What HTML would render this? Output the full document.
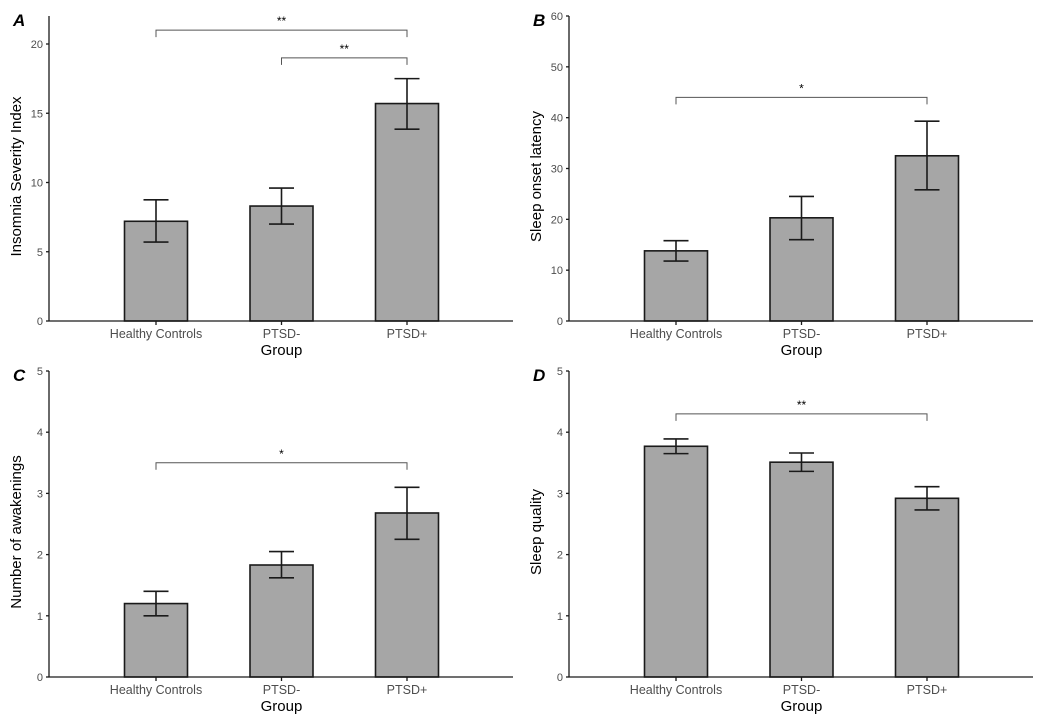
<!DOCTYPE html>
<html><head><meta charset="utf-8"><style>
body{margin:0;background:#fff}
svg{display:block;font-family:"Liberation Sans",sans-serif}
</style></head><body>
<svg id="chart" width="1050" height="720"></svg>
<script>
const categories = ["Healthy Controls","PTSD-","PTSD+"];
const meansA = [7.2, 8.3, 15.7];
const lowA = [5.7, 7.0, 13.85];
const highA = [8.75, 9.6, 17.5];
const meansB = [13.8, 20.3, 32.5];
const lowB = [11.8, 16.0, 25.8];
const highB = [15.8, 24.5, 39.3];
const meansC = [1.2, 1.83, 2.68];
const lowC = [1.0, 1.62, 2.25];
const highC = [1.4, 2.05, 3.1];
const meansD = [3.77, 3.51, 2.92];
const lowD = [3.65, 3.36, 2.73];
const highD = [3.89, 3.66, 3.11];
const ticksA = [0,5,10,15,20];
const ticksB = [0,10,20,30,40,50,60];
const ticksCD = [0,1,2,3,4,5];

const NS="http://www.w3.org/2000/svg";
const svg=document.getElementById('chart');
function mk(tag,attrs,parent,text){const e=document.createElementNS(NS,tag);for(const k in attrs)e.setAttribute(k,attrs[k]);if(text!==undefined)e.textContent=text;(parent||svg).appendChild(e);return e;}

const panels=[
 {key:'a',letter:'A',ox:0,oy:0,axisX:49,base:321,topVal:20,topY:44,axisTop:16,ticks:ticksA,means:meansA,low:lowA,high:highA,title:'Insomnia Severity Index',showGroup:true,
  brackets:[{from:0,to:2,y:21,label:'**'},{from:1,to:2,y:19,label:'**'}]},
 {key:'b',letter:'B',ox:520,oy:0,axisX:569,base:321,topVal:60,topY:16,axisTop:16,ticks:ticksB,means:meansB,low:lowB,high:highB,title:'Sleep onset latency',showGroup:true,
  brackets:[{from:0,to:2,y:44,label:'*'}]},
 {key:'c',letter:'C',ox:0,oy:356,axisX:49,base:677,topVal:5,topY:371,axisTop:371,ticks:ticksCD,means:meansC,low:lowC,high:highC,title:'Number of awakenings',showGroup:true,
  brackets:[{from:0,to:2,y:3.5,label:'*'}]},
 {key:'d',letter:'D',ox:520,oy:356,axisX:569,base:677,topVal:5,topY:371,axisTop:371,ticks:ticksCD,means:meansD,low:lowD,high:highD,title:'Sleep quality',showGroup:true,
  brackets:[{from:0,to:2,y:4.3,label:'**'}]}
];

panels.forEach(p=>{
  const g=mk('g',{});
  
  
  const y=v=>p.base-(v/p.topVal)*(p.base-p.topY);
  const catX=i=>p.axisX+107+i*125.5;
  const right=p.axisX+464;
  const lt=mk('text',{x:p.axisX-36,y:p.axisTop+10,'font-size':17,'font-weight':'bold','font-style':'italic',fill:'#000'},g,p.letter);
  
  
  // bars
  p.means.forEach((m,i)=>{
    const cx=catX(i);
    const r=mk('rect',{x:cx-31.5,y:y(m),width:63,height:p.base-y(m),fill:'#a6a6a6',stroke:'#1a1a1a','stroke-width':1.6},g);
    
    
    const eb=mk('g',{stroke:'#1a1a1a','stroke-width':1.6},g);
    
    
    mk('line',{x1:cx,x2:cx,y1:y(p.low[i]),y2:y(p.high[i])},eb);
    mk('line',{x1:cx-12.5,x2:cx+12.5,y1:y(p.low[i]),y2:y(p.low[i])},eb);
    mk('line',{x1:cx-12.5,x2:cx+12.5,y1:y(p.high[i]),y2:y(p.high[i])},eb);
  });
  // axes
  const ax=mk('g',{stroke:'#1a1a1a','stroke-width':1.3},g);
  
  
  mk('line',{x1:p.axisX,x2:p.axisX,y1:p.axisTop,y2:p.base},ax);
  mk('line',{x1:p.axisX,x2:right,y1:p.base,y2:p.base},ax);
  p.ticks.forEach(t=>{
    mk('line',{x1:p.axisX-3,x2:p.axisX,y1:y(t),y2:y(t)},ax);
    const tl=mk('text',{x:p.axisX-6,y:y(t)+4,'font-size':11,'text-anchor':'end',fill:'#4d4d4d'},g,t);
    
    
  });
  categories.forEach((c,i)=>{
    mk('line',{x1:catX(i),x2:catX(i),y1:p.base,y2:p.base+4},ax);
    const cl=mk('text',{x:catX(i),y:p.base+17,'font-size':12.5,'text-anchor':'middle',fill:'#4d4d4d'},g,c);
    
    
  });
  const gt=mk('text',{x:catX(1),y:p.base+34,'font-size':15,'text-anchor':'middle',fill:'#000'},g,'Group');
  
  
  const cy=(p.axisTop+p.base)/2+8;
  const yt=mk('text',{x:0,y:0,'font-size':15,'text-anchor':'middle',fill:'#000',transform:`translate(${p.axisX-28},${cy}) rotate(-90)`},g,p.title);
  
  
  p.brackets.forEach(b=>{
    const bg=mk('g',{},g);
    
    
    const by=y(b.y);
    mk('path',{d:`M${catX(b.from)},${by+7}V${by}H${catX(b.to)}V${by+7}`,fill:'none',stroke:'#555','stroke-width':1},bg);
    mk('text',{x:(catX(b.from)+catX(b.to))/2,y:by-5,'font-size':12,'text-anchor':'middle',fill:'#000'},bg,b.label);
  });
});
</script>
</body></html>
